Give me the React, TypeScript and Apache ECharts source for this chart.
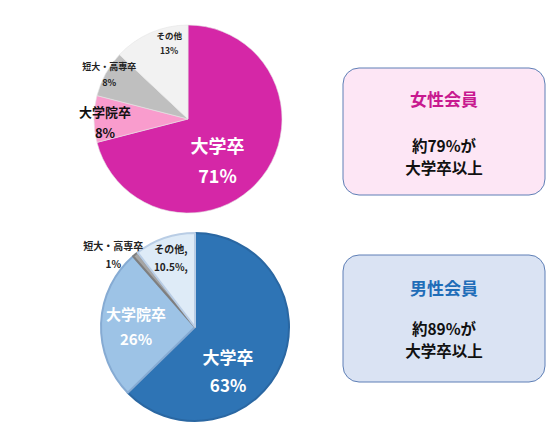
import * as echarts from "echarts"
import { useEffect, useRef } from "react"

// Female members: education breakdown (%)
const femaleCategories = ["大学卒", "大学院卒", "短大・高専卒", "その他"]
const femaleValues = [71, 8, 8, 13]
const femaleLabels = ["71%", "8%", "8%", "13%"]

// Male members: education breakdown (%)
const maleCategories = ["大学卒", "大学院卒", "短大・高専卒", "その他,"]
const maleValues = [63, 26, 1, 10.5]
const maleLabels = ["63%", "26%", "1%", "10.5%,"]

const FONT = "'Noto Sans CJK JP', 'Noto Sans', sans-serif"

const femaleColors = ["#D527A7", "#F99CCD", "#BFBFBF", "#F2F2F2"]
const femaleLabelStyle = [
  { color: "#fff", fontSize: 18, lineHeight: 30, offset: [-10, 10] },
  { color: "#111", fontSize: 13, lineHeight: 21, offset: [-33, 3] },
  { color: "#222", fontSize: 9, lineHeight: 16, offset: [-35, -20] },
  { color: "#222", fontSize: 8.5, lineHeight: 15, offset: [1, -31] },
]

const maleColors = ["#2E74B5", "#9DC3E6", "#A5A5A5", "#DEEBF7"]
const maleBorders = ["#2A67A2", "#86ABD3", "#7F7F7F", "#B9CDE5"]
const maleLabelStyle = [
  { color: "#fff", fontSize: 17, lineHeight: 28, offset: [-13, 24] },
  { color: "#fff", fontSize: 15, lineHeight: 25, offset: [-9, 1] },
  { color: "#222", fontSize: 10, lineHeight: 18, offset: [-50, -34] },
  { color: "#222", fontSize: 10, lineHeight: 18, offset: [-8, -22] },
]

export default function App() {
  const chartRef = useRef<HTMLDivElement>(null)

  useEffect(() => {
    if (!chartRef.current) return
    const chart = echarts.init(chartRef.current, undefined, { renderer: "svg" })

    const femaleData = femaleCategories.map((name, i) => ({
      name,
      value: femaleValues[i],
      itemStyle: { color: femaleColors[i] },
      label: {
        formatter: `${name}\n${femaleLabels[i]}`,
        color: femaleLabelStyle[i].color,
        fontSize: femaleLabelStyle[i].fontSize,
        lineHeight: femaleLabelStyle[i].lineHeight,
        offset: femaleLabelStyle[i].offset,
      },
    }))

    const maleData = maleCategories.map((name, i) => ({
      name,
      value: maleValues[i],
      itemStyle: { color: maleColors[i], borderColor: maleBorders[i], borderWidth: 2 },
      label: {
        formatter: `${name}\n${maleLabels[i]}`,
        color: maleLabelStyle[i].color,
        fontSize: maleLabelStyle[i].fontSize,
        lineHeight: maleLabelStyle[i].lineHeight,
        offset: maleLabelStyle[i].offset,
      },
    }))

    const centered = (x: number, y: number, text: string, fill: string, size: number) => ({
      type: "text",
      x,
      y,
      style: {
        text,
        fill,
        font: `bold ${size}px ${FONT}`,
        align: "center",
        verticalAlign: "middle",
      },
    })

    const box = (
      y: number,
      fill: string,
      title: string,
      titleColor: string,
      pct: string,
      rows: number[]
    ) => [
      {
        type: "rect",
        shape: { x: 343, y, width: 202, height: 127, r: 16 },
        style: { fill, stroke: "#5E7FB6", lineWidth: 1 },
      },
      centered(444, y + rows[0], title, titleColor, 17),
      centered(444, y + rows[1], `約${pct}が`, "#111", 15.5),
      centered(444, y + rows[2], "大学卒以上", "#111", 15.5),
    ]

    chart.setOption({
      animation: false,
      backgroundColor: "#fff",
      textStyle: { fontFamily: FONT },
      series: [
        {
          type: "pie",
          center: [188, 119],
          radius: 94,
          startAngle: 90,
          clockwise: true,
          silent: true,
          itemStyle: { borderColor: "#E4E4E4", borderWidth: 0.6 },
          label: { show: true, position: "inside", fontWeight: "bold", fontFamily: FONT },
          labelLine: { show: false },
          data: femaleData,
        },
        {
          type: "pie",
          center: [195, 327],
          radius: 94,
          startAngle: 90,
          clockwise: true,
          silent: true,
          label: { show: true, position: "inside", fontWeight: "bold", fontFamily: FONT },
          labelLine: { show: false },
          data: maleData,
        },
      ],
      graphic: [
        ...box(68, "#FDE6F5", "女性会員", "#C8198F", "79%", [30, 77, 99]),
        ...box(255, "#DAE3F3", "男性会員", "#1F6DB8", "89%", [32, 73, 95]),
      ],
    })

    return () => {
      chart.dispose()
    }
  }, [])

  return (
    <div
      ref={chartRef}
      style={{ position: "fixed", left: 0, top: 0, width: "546px", height: "432px" }}
    />
  )
}
